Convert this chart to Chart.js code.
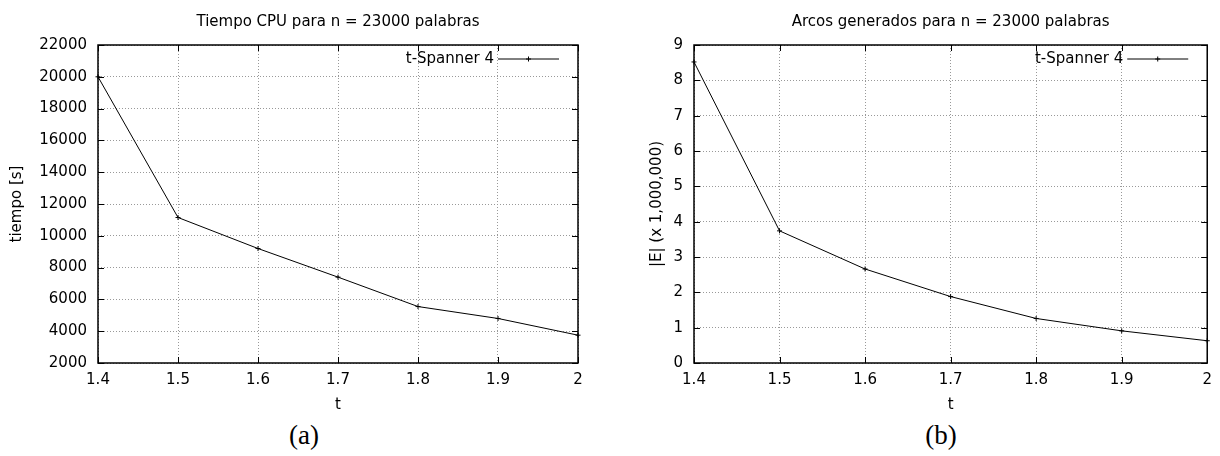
<!DOCTYPE html>
<html>
<head>
<meta charset="utf-8">
<script src="https://cdn.jsdelivr.net/npm/chart.js@4.4.0/dist/chart.umd.min.js"></script>
<style>
  html, body { margin: 0; padding: 0; background: #fff; }
  #page { position: relative; width: 1220px; height: 456px; }
  .panel { position: absolute; top: 0; width: 610px; height: 420px; }
  .cap {
    position: absolute; top: 420px; width: 80px; margin-left: -40px;
    text-align: center; font: 27px "Liberation Serif", serif; color: #000;
  }
</style>
</head>
<body>
<div id="page">
  <div class="panel" style="left:0"><canvas id="cpuChart" width="610" height="420"></canvas></div>
  <div class="panel" style="left:610px"><canvas id="arcsChart" width="610" height="420"></canvas></div>
  <div class="cap" style="left:304px">(a)</div>
  <div class="cap" style="left:941px">(b)</div>
</div>
<script>
// valores de t (eje x)
const tValues = [1.4, 1.5, 1.6, 1.7, 1.8, 1.9, 2.0];
// tiempo CPU en segundos
const cpuTimes = [20000, 11150, 9200, 7400, 5550, 4800, 3750];
// arcos generados (x 1,000,000)
const arcCounts = [8.52, 3.74, 2.66, 1.88, 1.26, 0.91, 0.63];

const seriesName = 't-Spanner 4';
const FONT = 'DejaVu Sans';

// marco, ticks hacia adentro y leyenda estilo gnuplot
const gnuplotLook = {
    id: 'gnuplotLook',
    afterDraw(chart) {
        const ctx = chart.ctx;
        const a = chart.chartArea;
        const xs = chart.scales.x, ys = chart.scales.y;
        ctx.save();
        ctx.strokeStyle = '#000';
        ctx.lineWidth = 1;
        ctx.beginPath();
        xs.ticks.forEach(t => {
            const px = Math.round(xs.getPixelForValue(t.value)) + 0.5;
            ctx.moveTo(px, a.bottom); ctx.lineTo(px, a.bottom - 6);
            ctx.moveTo(px, a.top); ctx.lineTo(px, a.top + 6);
        });
        ys.ticks.forEach(t => {
            const py = Math.round(ys.getPixelForValue(t.value)) + 0.5;
            ctx.moveTo(a.left, py); ctx.lineTo(a.left + 6, py);
            ctx.moveTo(a.right, py); ctx.lineTo(a.right - 6, py);
        });
        ctx.stroke();
        ctx.lineWidth = 1.5;
        ctx.strokeRect(a.left, a.top, a.right - a.left, a.bottom - a.top);

        // leyenda
        const ds = chart.data.datasets[0];
        const y = a.top + 14;
        const x1 = a.right - 19, x0 = x1 - 61;
        ctx.lineWidth = 1;
        ctx.beginPath();
        ctx.moveTo(x0, y); ctx.lineTo(x1, y);
        const cx = (x0 + x1) / 2;
        ctx.moveTo(cx - 2.5, y); ctx.lineTo(cx + 2.5, y);
        ctx.moveTo(cx, y - 2.5); ctx.lineTo(cx, y + 2.5);
        ctx.stroke();
        ctx.fillStyle = '#000';
        ctx.font = '15px "' + FONT + '"';
        ctx.textAlign = 'right';
        ctx.textBaseline = 'middle';
        ctx.fillText(ds.label, x0 - 4, y);
        ctx.restore();
    }
};

function makeChart(id, values, opts) {
    const ctx = document.getElementById(id).getContext('2d');
    return new Chart(ctx, {
        type: 'line',
        data: {
            datasets: [{
                label: seriesName,
                data: tValues.map((t, i) => ({ x: t, y: values[i] })),
                borderColor: '#000',
                backgroundColor: '#000',
                borderWidth: 1,
                tension: 0,
                pointStyle: 'cross',
                pointRadius: 2.5,
                pointBorderWidth: 1,
                pointHoverRadius: 2.5,
                clip: false
            }]
        },
        options: {
            responsive: false,
            animation: false,
            layout: { padding: { left: 0, right: opts.padRight, top: 0, bottom: 0 } },
            plugins: {
                legend: { display: false },
                tooltip: { enabled: false },
                title: {
                    display: true,
                    text: opts.title,
                    fullSize: false,
                    color: '#000',
                    font: { family: FONT, size: 15, weight: 'normal' },
                    padding: { top: 13, bottom: 14 }
                }
            },
            scales: {
                x: {
                    type: 'linear',
                    min: 1.4,
                    max: 2,
                    afterFit: s => { s.height = 57; },
                    ticks: {
                        stepSize: 0.1,
                        padding: 8,
                        color: '#000',
                        font: { family: FONT, size: 15 },
                        callback: v => String(Math.round(v * 10) / 10)
                    },
                    grid: { color: '#999', lineWidth: 1, drawTicks: false },
                    border: { display: false, dash: [1, 2] },
                    title: {
                        display: true, text: 't', color: '#000',
                        font: { family: FONT, size: 15 },
                        padding: { top: 0, bottom: 6 }
                    }
                },
                y: {
                    min: opts.yMin,
                    max: opts.yMax,
                    afterFit: s => { s.width = opts.yWidth; },
                    ticks: {
                        stepSize: opts.yStep,
                        padding: 11,
                        color: '#000',
                        font: { family: FONT, size: 15 },
                        callback: v => String(v)
                    },
                    grid: { color: '#999', lineWidth: 1, drawTicks: false },
                    border: { display: false, dash: [1, 2] },
                    title: {
                        display: true, text: opts.yTitle, color: '#000',
                        font: { family: FONT, size: 15 },
                        padding: { top: opts.yTitlePad, bottom: 0 }
                    }
                }
            }
        },
        plugins: [gnuplotLook]
    });
}

document.addEventListener('DOMContentLoaded', () => {
    // (a) Tiempo CPU
    makeChart('cpuChart', cpuTimes, {
        title: 'Tiempo CPU para n = 23000 palabras',
        yTitle: 'tiempo [s]',
        yMin: 2000, yMax: 22000, yStep: 2000,
        yWidth: 98, yTitlePad: 8, padRight: 32
    });
    // (b) Arcos generados
    makeChart('arcsChart', arcCounts, {
        title: 'Arcos generados para n = 23000 palabras',
        yTitle: '|E| (x 1,000,000)',
        yMin: 0, yMax: 9, yStep: 1,
        yWidth: 84, yTitlePad: 38, padRight: 4
    });
});
</script>
</body>
</html>
